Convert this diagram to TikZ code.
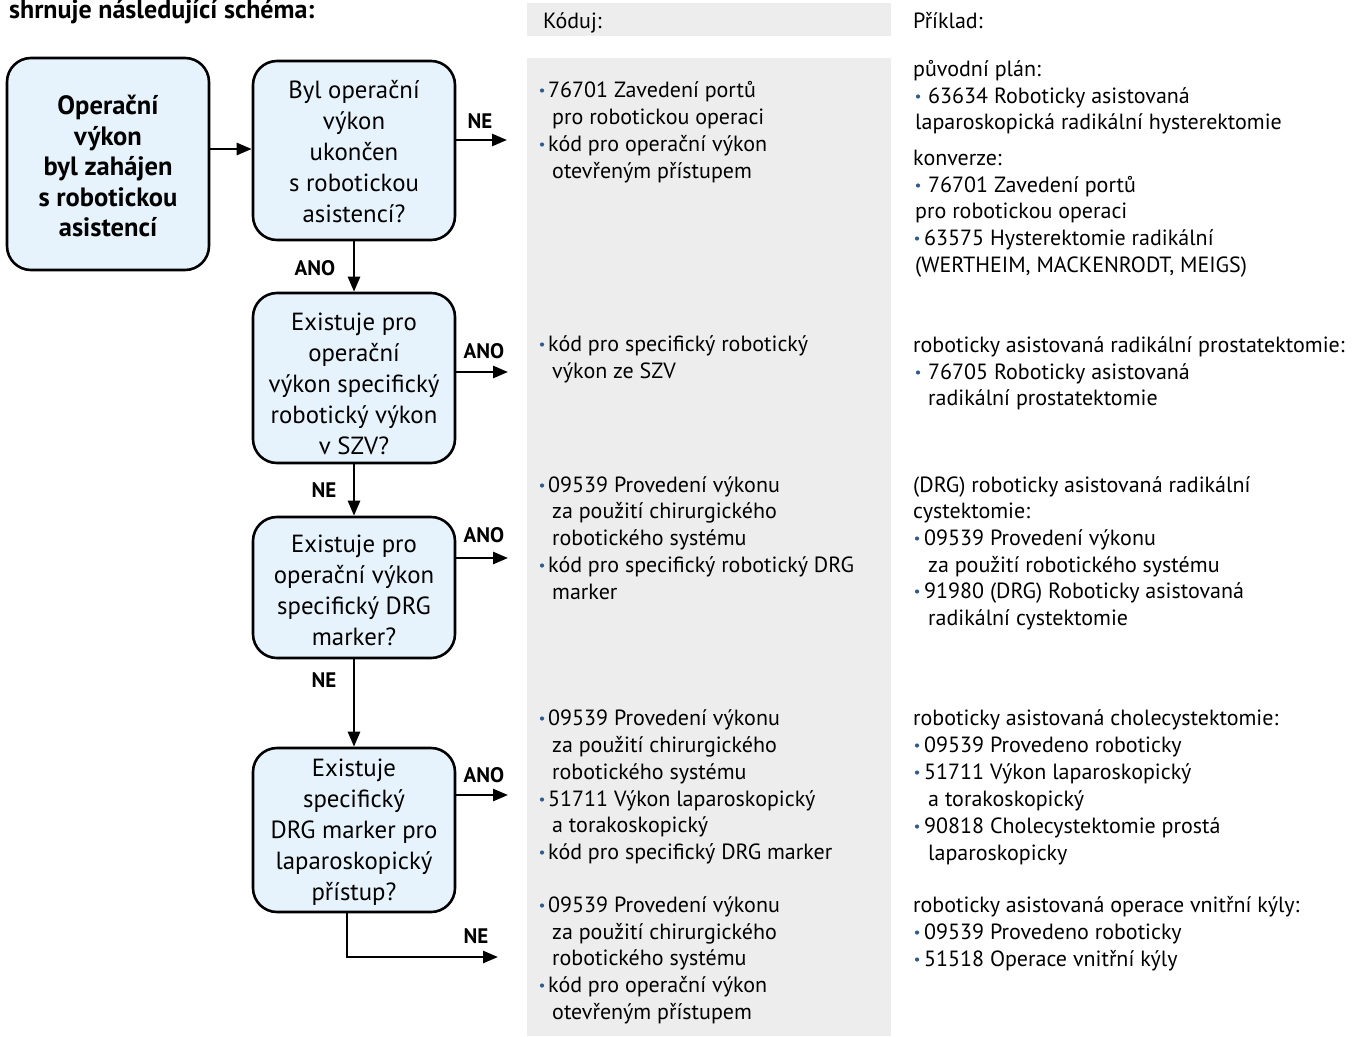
\documentclass[tikz,border=0pt]{standalone}
\usepackage{fontspec}
\setmainfont{PT Sans}
\usetikzlibrary{arrows.meta}
\definecolor{boxblue}{HTML}{E6F3FC}
\definecolor{panelgray}{HTML}{EDEDED}
\definecolor{bulc}{HTML}{2F5C8A}
\newcommand\bulletat[2]{\fill[bulc] (#1,#2-6.5) circle (2.1pt);}
\newcommand\putline[4]{\node[ct] (#1) at (#2,#3) {#4};}
\begin{document}
\begin{tikzpicture}[x=1pt,y=-1pt,
  fbox/.style={draw,line width=2.6pt,rounded corners=24pt,fill=boxblue,minimum width=202pt,inner sep=0pt},
  btxt/.style={align=center,font=\fontsize{24.8}{31}\selectfont,inner sep=0pt},
  lab/.style={font=\fontsize{21}{24}\selectfont\bfseries,inner sep=0pt},
  arr/.style={line width=2.6pt,-{Triangle[length=15pt,width=12pt]}},
  ct/.style={font=\fontsize{22}{27}\selectfont,inner sep=0pt,anchor=base west}]
\useasboundingbox (0,0) rectangle (1364,1036);
% panels
\fill[panelgray] (527,3) rectangle (891,36);
\fill[panelgray] (527,58) rectangle (891,1036);
% title and headers
\node[font=\fontsize{26}{30}\selectfont\bfseries,anchor=base west,inner sep=0pt] (title) at (9,18) {shrnuje následující schéma:};
\putline{h1}{543}{28}{Kóduj:}
\putline{h2}{913}{28}{Příklad:}
% flow boxes
\node[fbox,minimum height=212pt] (A) at (108,164) {};
\node[fbox,minimum height=179pt] (B) at (354,150.5) {};
\node[fbox,minimum height=170pt] (C) at (354,378) {};
\node[fbox,minimum height=141pt] (D) at (354,587.5) {};
\node[fbox,minimum height=164pt] (E) at (354,830) {};
\node[btxt,font=\fontsize{26.5}{30.5}\selectfont\bfseries] (At) at (108,166) {Operační\\výkon\\byl zahájen\\s robotickou\\asistencí};
\node[btxt] (Bt) at (354,152) {Byl operační\\výkon\\ukončen\\s robotickou\\asistencí?};
\node[btxt] (Ct) at (354,384) {Existuje pro\\operační\\výkon specifický\\robotický výkon\\v SZV?};
\node[btxt] (Dt) at (354,590) {Existuje pro\\operační výkon\\specifický DRG\\marker?};
\node[btxt] (Et) at (354,832) {Existuje\\specifický\\DRG marker pro\\laparoskopický\\přístup?};
% connectors
\coordinate (yab) at (0,149);
\coordinate (bne) at (507,140);
\coordinate (cano) at (508,372);
\coordinate (dano) at (508,558);
\coordinate (eano) at (508,795);
\coordinate (ecorner) at (347,957);
\coordinate (ene) at (498,957);
\draw[arr] (A.east |- yab) -- (B.west |- yab);
\draw[arr] (B.east |- bne) -- (bne);
\draw[arr] (B.south) -- (C.north);
\draw[arr] (C.east |- cano) -- (cano);
\draw[arr] (C.south) -- (D.north);
\draw[arr] (D.east |- dano) -- (dano);
\draw[arr] (D.south) -- (E.north);
\draw[arr] (E.east |- eano) -- (eano);
\draw[arr] (E.south -| ecorner) |- (ene);
% labels
\node[lab] (l1) at (315,268) {ANO};
\node[lab] (l2) at (480,121) {NE};
\node[lab] (l3) at (484,351) {ANO};
\node[lab] (l4) at (324,490) {NE};
\node[lab] (l5) at (484,535) {ANO};
\node[lab] (l6) at (324,680) {NE};
\node[lab] (l7) at (484,775) {ANO};
\node[lab] (l8) at (476,936) {NE};
% gray column
\bulletat{542}{97}\putline{k1a}{548}{97}{76701 Zavedení portů}
\putline{k1b}{552}{124}{pro robotickou operaci}
\bulletat{542}{151}\putline{k1c}{548}{151}{kód pro operační výkon}
\putline{k1d}{552}{178}{otevřeným přístupem}
\bulletat{542}{351}\putline{k2a}{548}{351}{kód pro specifický robotický}
\putline{k2b}{552}{378}{výkon ze SZV}
\bulletat{542}{492}\putline{k3a}{548}{492}{09539 Provedení výkonu}
\putline{k3b}{552}{518}{za použití chirurgického}
\putline{k3c}{552}{545}{robotického systému}
\bulletat{542}{572}\putline{k3d}{548}{572}{kód pro specifický robotický DRG}
\putline{k3e}{552}{599}{marker}
\bulletat{542}{725}\putline{k4a}{548}{725}{09539 Provedení výkonu}
\putline{k4b}{552}{752}{za použití chirurgického}
\putline{k4c}{552}{779}{robotického systému}
\bulletat{542}{806}\putline{k4d}{548}{806}{51711 Výkon laparoskopický}
\putline{k4e}{552}{832}{a torakoskopický}
\bulletat{542}{859}\putline{k4f}{548}{859}{kód pro specifický DRG marker}
\bulletat{542}{912}\putline{k5a}{548}{912}{09539 Provedení výkonu}
\putline{k5b}{552}{939}{za použití chirurgického}
\putline{k5c}{552}{965}{robotického systému}
\bulletat{542}{992}\putline{k5d}{548}{992}{kód pro operační výkon}
\putline{k5e}{552}{1019}{otevřeným přístupem}
% right column
\putline{p1a}{913}{76}{původní plán:}
\bulletat{918}{103}\putline{p1b}{928}{103}{63634 Roboticky asistovaná}
\putline{p1c}{915}{129}{laparoskopická radikální hysterektomie}
\putline{p1d}{913}{165}{konverze:}
\bulletat{918}{192}\putline{p1e}{928}{192}{76701 Zavedení portů}
\putline{p1f}{915}{218}{pro robotickou operaci}
\bulletat{917}{245}\putline{p1g}{924}{245}{63575 Hysterektomie radikální}
\putline{p1h}{915}{272}{(WERTHEIM, MACKENRODT, MEIGS)}
\putline{p2a}{913}{352}{roboticky asistovaná radikální prostatektomie:}
\bulletat{918}{379}\putline{p2b}{928}{379}{76705 Roboticky asistovaná}
\putline{p2c}{928}{405}{radikální prostatektomie}
\putline{p3a}{913}{492}{(DRG) roboticky asistovaná radikální}
\putline{p3b}{913}{518}{cystektomie:}
\bulletat{917}{545}\putline{p3c}{924}{545}{09539 Provedení výkonu}
\putline{p3d}{928}{572}{za použití robotického systému}
\bulletat{917}{598}\putline{p3e}{924}{598}{91980 (DRG) Roboticky asistovaná}
\putline{p3f}{928}{625}{radikální cystektomie}
\putline{p4a}{913}{725}{roboticky asistovaná cholecystektomie:}
\bulletat{917}{752}\putline{p4b}{924}{752}{09539 Provedeno roboticky}
\bulletat{917}{779}\putline{p4c}{924}{779}{51711 Výkon laparoskopický}
\putline{p4d}{928}{806}{a torakoskopický}
\bulletat{917}{833}\putline{p4e}{924}{833}{90818 Cholecystektomie prostá}
\putline{p4f}{928}{860}{laparoskopicky}
\putline{p5a}{913}{912}{roboticky asistovaná operace vnitřní kýly:}
\bulletat{917}{939}\putline{p5b}{924}{939}{09539 Provedeno roboticky}
\bulletat{917}{966}\putline{p5c}{924}{966}{51518 Operace vnitřní kýly}
\end{tikzpicture}
\end{document}
